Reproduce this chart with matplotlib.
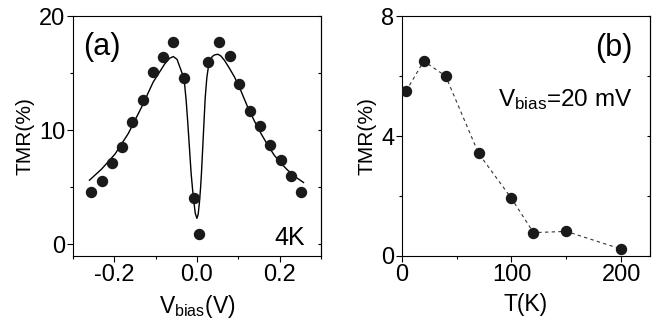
import numpy as np
import matplotlib
matplotlib.use("Agg")
import matplotlib.pyplot as plt
from matplotlib.ticker import MultipleLocator

plt.rcParams['font.family'] = ['Liberation Sans', 'DejaVu Sans']
plt.rcParams['mathtext.fontset'] = 'custom'
plt.rcParams['mathtext.rm'] = 'Liberation Sans'
plt.rcParams['mathtext.it'] = 'Liberation Sans:italic'
plt.rcParams['axes.unicode_minus'] = False

# panel (a): TMR vs bias at 4K
v_bias = [-0.257, -0.229, -0.205, -0.181, -0.156, -0.131, -0.106, -0.082, -0.057,
          -0.032, -0.007, 0.005, 0.028, 0.053, 0.079, 0.103, 0.128, 0.153,
          0.178, 0.203, 0.228, 0.252]
tmr_v = [4.55, 5.5, 7.15, 8.5, 10.7, 12.6, 15.07, 16.4, 17.7,
         14.6, 4.06, 0.85, 16.0, 17.7, 16.5, 14.0, 11.7, 10.4,
         8.7, 7.33, 5.93, 4.55]

# fitted curve
fit_v = [-0.260, -0.230, -0.198, -0.166, -0.134, -0.106, -0.078, -0.066, -0.057,
         -0.048, -0.042, -0.036, -0.030, -0.026, -0.022, -0.018, -0.014, -0.010,
         -0.007, -0.004, 0.000, 0.003, 0.006, 0.009, 0.011, 0.014, 0.017, 0.020,
         0.024, 0.028, 0.032, 0.037, 0.043, 0.051, 0.058, 0.067, 0.079, 0.091,
         0.107, 0.123, 0.139, 0.155, 0.171, 0.187, 0.203, 0.219, 0.238, 0.258]
fit_tmr = [5.6, 6.6, 7.9, 9.7, 12.0, 14.2, 15.8, 16.3, 16.45,
           16.2, 15.6, 15.0, 14.1, 12.6, 10.6, 8.4, 6.2, 4.6,
           3.6, 2.7, 2.25, 2.6, 3.6, 5.0, 6.2, 8.4, 10.6, 12.8,
           14.6, 15.6, 16.1, 16.45, 16.6, 16.65, 16.5, 16.1, 15.4, 14.65,
           13.4, 12.0, 10.8, 9.7, 8.7, 7.8, 7.1, 6.5, 5.9, 5.4]

# panel (b): TMR vs temperature at 20 mV
temp = [4, 20, 40, 70, 100, 120, 150, 200]
tmr_t = [5.5, 6.5, 6.0, 3.42, 1.92, 0.78, 0.82, 0.23]

dot = '#1a1a1a'
fs = 15
tfs = 17

fig = plt.figure(figsize=(6.63, 3.22), dpi=100)
ax1 = fig.add_axes([0.110, 0.205, 0.374, 0.745])
ax2 = fig.add_axes([0.606, 0.205, 0.374, 0.745])


def style(ax, ymaj, ymin, xmaj, xmin):
    ax.yaxis.set_major_locator(MultipleLocator(ymaj))
    ax.yaxis.set_minor_locator(MultipleLocator(ymin))
    ax.xaxis.set_major_locator(MultipleLocator(xmaj))
    ax.xaxis.set_minor_locator(MultipleLocator(xmin))
    ax.tick_params(which='both', direction='out', right=False, top=False,
                   labelsize=tfs, width=0.8, pad=1.5)
    ax.tick_params(which='major', length=4)
    ax.tick_params(which='minor', length=2.5)
    for s in ax.spines.values():
        s.set_linewidth(0.8)
    sec = ax.secondary_yaxis('right')
    sec.yaxis.set_major_locator(MultipleLocator(ymin))
    sec.tick_params(direction='in', length=2.5, width=0.8, labelright=False)
    sec.spines['right'].set_linewidth(0.8)


ax1.plot(fit_v, fit_tmr, color='black', lw=1.0, zorder=2)
ax1.plot(v_bias, tmr_v, 'o', color=dot, ms=7.2, zorder=3)
ax1.set_xlim(-0.3, 0.3)
ax1.set_ylim(-1.05, 20)
style(ax1, 10, 5, 0.2, 0.1)
ax1.set_yticks([0, 10, 20])
ax1.set_xlabel(r'V$_{\mathrm{bias}}$(V)', fontsize=16.5, labelpad=5)
ax1.set_ylabel('TMR(%)', fontsize=fs, labelpad=3)
ax1.text(0.04, 0.87, '(a)', transform=ax1.transAxes, fontsize=22, va='center', ha='left')
ax1.text(0.935, 0.075, '4K', transform=ax1.transAxes, fontsize=18, va='center', ha='right')

ax2.plot(temp, tmr_t, '--', color='#333333', lw=0.8, dashes=(3, 3), zorder=2)
ax2.plot(temp, tmr_t, 'o', color=dot, ms=7.2, zorder=3)
ax2.set_xlim(0, 226)
ax2.set_ylim(0, 8)
style(ax2, 4, 2, 100, 50)
ax2.set_xlabel('T(K)', fontsize=16.5, labelpad=5)
ax2.set_ylabel('TMR(%)', fontsize=fs, labelpad=3)
ax2.text(0.93, 0.867, '(b)', transform=ax2.transAxes, fontsize=22, va='center', ha='right')
ax2.text(0.388, 0.654, r'V$_{\mathrm{bias}}$=20 mV', transform=ax2.transAxes,
         fontsize=17.5, va='center', ha='left')

fig.savefig('out.png', dpi=100)
